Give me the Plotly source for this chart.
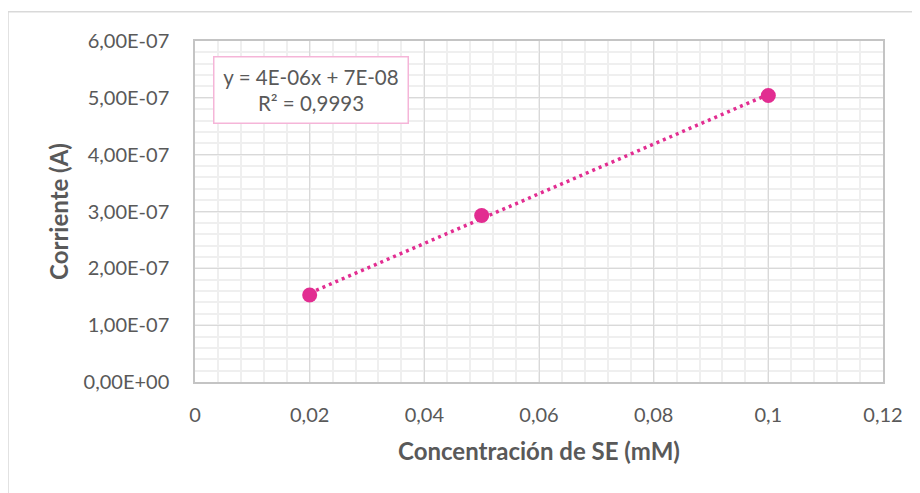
import numpy as np
import plotly.graph_objects as go

# Data
conc_mM = [0.02, 0.05, 0.10]
current_A = [1.53e-7, 2.93e-7, 5.04e-7]

x_tickvals = [0, 0.02, 0.04, 0.06, 0.08, 0.10, 0.12]
x_ticktext = ["0", "0,02", "0,04", "0,06", "0,08", "0,1", "0,12"]
y_tickvals = [0, 1e-7, 2e-7, 3e-7, 4e-7, 5e-7, 6e-7]
y_ticktext = ["0,00E+00", "1,00E-07", "2,00E-07", "3,00E-07", "4,00E-07", "5,00E-07", "6,00E-07"]

eq_text = "y = 4E-06x + 7E-08<br>R² = 0,9993"
x_title = "Concentración de SE (mM)"
y_title = "Corriente (A)"

# Linear trendline from data
slope, intercept = np.polyfit(conc_mM, current_A, 1)
trend_x = [min(conc_mM), max(conc_mM)]
trend_y = [slope * v + intercept for v in trend_x]

PINK = "#E22D91"
TXT = "#595959"
FONT = "Lato"

fig = go.Figure()
fig.add_trace(go.Scatter(
    x=trend_x, y=trend_y, mode="lines",
    line=dict(color=PINK, width=3.5, dash="3px,4px"),
    hoverinfo="skip", showlegend=False,
))
fig.add_trace(go.Scatter(
    x=conc_mM, y=current_A, mode="markers",
    marker=dict(color=PINK, size=15, line=dict(width=0)),
    showlegend=False,
))

fig.update_layout(
    width=920, height=493,
    margin=dict(l=187, r=45, t=33, b=119, autoexpand=False),
    paper_bgcolor="white", plot_bgcolor="white",
    font=dict(family=FONT, color=TXT, size=20),
    xaxis=dict(
        range=[0, 0.12], tickvals=x_tickvals, ticktext=x_ticktext,
        showgrid=True, gridcolor="#d9d9d9", gridwidth=1,
        minor=dict(dtick=0.004, showgrid=True, gridcolor="#efefef", gridwidth=1.5),
        showline=True, linecolor="#c4c4c4", linewidth=1.5, mirror=True,
        zeroline=False, ticks="", ticklabelstandoff=14,
        tickfont=dict(size=20, color=TXT, family=FONT),
        title=dict(text="<b>" + x_title + "</b>", font=dict(size=24, color=TXT, family=FONT), standoff=18),
    ),
    yaxis=dict(
        range=[0, 6e-7], tickvals=y_tickvals, ticktext=y_ticktext,
        showgrid=True, gridcolor="#d9d9d9", gridwidth=1,
        minor=dict(dtick=2e-8, showgrid=True, gridcolor="#efefef", gridwidth=1.5),
        showline=True, linecolor="#c4c4c4", linewidth=1.5, mirror=True,
        zeroline=False, ticks="", ticklabelstandoff=20,
        tickfont=dict(size=20, color=TXT, family=FONT),
        title=dict(text="<b>" + y_title + "</b>", font=dict(size=24, color=TXT, family=FONT), standoff=8),
    ),
    annotations=[dict(
        x=0.1679, y=0.8555, xref="paper", yref="paper",
        text=eq_text, showarrow=False, align="center",
        xanchor="center", yanchor="middle",
        width=189, height=61,
        bgcolor="white", bordercolor="#F5B5D8", borderwidth=1.5, borderpad=2,
        font=dict(size=20.5, color=TXT, family=FONT),
    )],
    shapes=[dict(
        type="rect", xref="paper", yref="paper",
        x0=-0.2718, x1=1.2, y0=-0.6, y1=1.086,
        line=dict(color="#d9d9d9", width=1.5), layer="below",
    )],
)

fig.write_html("out.html")
